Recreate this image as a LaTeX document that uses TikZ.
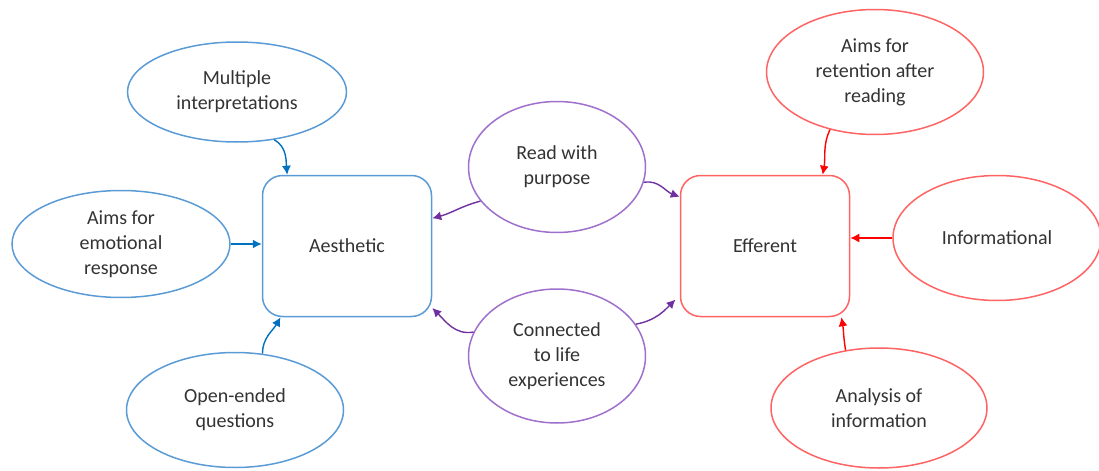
\documentclass[tikz,border=0pt]{standalone}
\usepackage{fontspec}
\setmainfont{Carlito}
\usetikzlibrary{arrows.meta,shapes.geometric}
\definecolor{aesblue}{RGB}{91,155,213}
\definecolor{aesarrow}{RGB}{0,112,192}
\definecolor{effred}{RGB}{255,100,100}
\definecolor{effarrow}{RGB}{255,0,0}
\definecolor{midpurple}{RGB}{160,112,205}
\definecolor{midarrow}{RGB}{112,48,160}

\begin{document}
\begin{tikzpicture}[x=0.5pt,y=-0.5pt,font=\fontsize{10}{12.5}\selectfont]
	\tikzset{Oval/.style={ellipse, draw, line width=0.75pt, inner sep=0pt, align=center, text=black!80},
	         Box/.style={rectangle, rounded corners=10pt, draw, line width=0.75pt,
	                     minimum width=84.5pt, minimum height=70.5pt, text=black!80},
	         Link/.style={-{Latex[length=4.5pt,width=4.5pt]}, line width=0.7pt}}
	\useasboundingbox (0,0) rectangle (1099,471);
	% the two reading stances
	\node[Box, draw=aesblue] (aes) at (347,246) {Aesthetic};
	\node[Box, draw=effred] (eff) at (765,246) {Efferent};
	% aesthetic side
	\node[Oval, draw=aesblue, minimum width=109.5pt, minimum height=50pt] (mult) at (237,92) {Multiple\\interpretations};
	\node[Oval, draw=aesblue, minimum width=109pt, minimum height=53.5pt] (emo) at (121,244) {Aims for\\emotional\\response};
	\node[Oval, draw=aesblue, minimum width=108.5pt, minimum height=57.5pt] (open) at (235,410) {Open-ended\\questions};
	% shared
	\node[Oval, draw=midpurple, minimum width=88.5pt, minimum height=65.5pt] (read) at (557,167) {Read with\\purpose};
	\node[Oval, draw=midpurple, minimum width=88.5pt, minimum height=67pt] (conn) at (557,356) {Connected\\to life\\experiences};
	% efferent side
	\node[Oval, draw=effred, minimum width=108.5pt, minimum height=62.5pt] (ret) at (875,72) {Aims for\\retention after\\reading};
	\node[Oval, draw=effred, minimum width=104pt, minimum height=62.5pt] (info) at (997,238) {Informational};
	\node[Oval, draw=effred, minimum width=108pt, minimum height=60pt] (ana) at (879,408) {Analysis of\\information};

	\tikzset{Link/.append style={aesarrow}}
	\draw[Link] (mult.-52) to[out=-30,in=95] (aes.130);
	\draw[Link] (emo.east) -- (aes.west |- emo.east);
	\draw[Link] (open.64) to[out=90,in=-120] (aes.227);
	\draw[Link, midarrow] (read.204) to[out=195,in=15] (aes.18);
	\draw[Link, midarrow] (read.-10) to[out=10,in=160] (eff.150);
	\draw[Link, midarrow] (conn.164) to[out=190,in=-45] (aes.-36);
	\draw[Link, midarrow, shorten >=3pt] (conn.22) to[out=10,in=225] (eff.210);
	\draw[Link, effarrow] (ret.-128) to[out=-115,in=80] (eff.51);
	\draw[Link, effarrow] (info.west) -- (eff.east |- info.west);
	\draw[Link, effarrow] (ana.120) to[out=100,in=-80] (eff.-43);
\end{tikzpicture}
\end{document}
